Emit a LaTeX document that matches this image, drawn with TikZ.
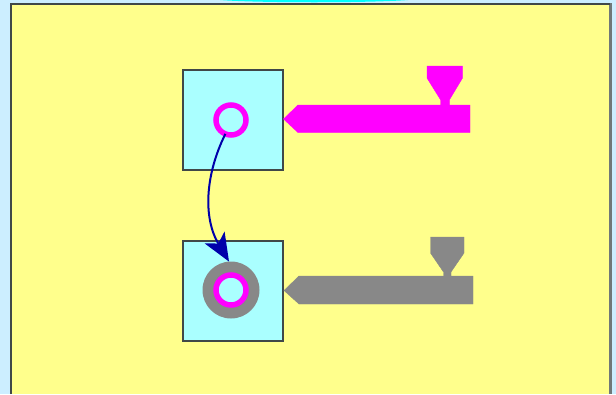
\documentclass[tikz,border=0pt]{standalone}
\usetikzlibrary{arrows.meta}
\definecolor{pagebg}{HTML}{CCEEFF}
\definecolor{panel}{HTML}{FFFF8C}
\definecolor{boxfill}{HTML}{AAFFFF}
\definecolor{edge}{HTML}{404848}
\definecolor{edgeb}{HTML}{707878}
\definecolor{mag}{HTML}{FF00FF}
\definecolor{gry}{HTML}{888888}
\definecolor{arrowblue}{HTML}{0000AA}
\definecolor{topcyan}{HTML}{00FFFF}
\tikzset{
  mould/.style={draw=edge,line width=2pt,fill=boxfill,minimum width=100pt,minimum height=100pt,inner sep=0pt,outer sep=0pt},
  ring/.style={circle,draw=mag,fill=boxfill,line width=5.5pt,minimum size=30pt,inner sep=0pt,outer sep=0pt},
  disc/.style={circle,fill=gry,minimum size=57pt,inner sep=0pt,outer sep=0pt},
  injector/.style={line width=.4pt,line join=miter}
}
\begin{document}
\begin{tikzpicture}[x=1pt,y=-1pt]
\useasboundingbox (0,0) rectangle (616,394);
\fill[pagebg] (0,0) rectangle (616,394);
\fill[topcyan] (220,0) -- (408,0) .. controls (370,3) and (258,3) .. (220,0) -- cycle;
\fill[panel] (10,4) rectangle (611,394);
\draw[edgeb,line width=2.4pt] (10.5,4) -- (610.5,4) -- (610.5,394);
\draw[edge,line width=2.6pt] (11,394) -- (11,4) -- (610,4);

\node[mould] (box1) at (233,120) {};
\node[mould] (box2) at (233,290.5) {};
\node[ring] (ring1) at (231,120) {};
\node[disc] (disc2) at (231,290) {};
\node[ring] (ring2) at (231,290) {};

\fill[mag,draw=mag,injector] (283.5,119) -- (298,105) -- (440.7,105) -- (440.7,100) -- (427,78) -- (427,66) -- (462.5,66) -- (462.5,78) -- (449.3,100) -- (449.3,105) -- (470,105) -- (470,132.5) -- (298,132.5) -- cycle;
\fill[gry,draw=gry,injector] (284,290.5) -- (299,276) -- (443.5,276) -- (443.5,272) -- (430.5,253) -- (430.5,237) -- (464,237) -- (464,253) -- (451,272) -- (451,276) -- (473,276) -- (473,304) -- (299,304) -- cycle;

\draw[arrowblue,line width=2pt,-{Stealth[length=28pt,width=23pt,inset=7pt]}] (ring1.248) .. controls (205,175) and (203,218) .. (disc2.94);
\end{tikzpicture}
\end{document}
